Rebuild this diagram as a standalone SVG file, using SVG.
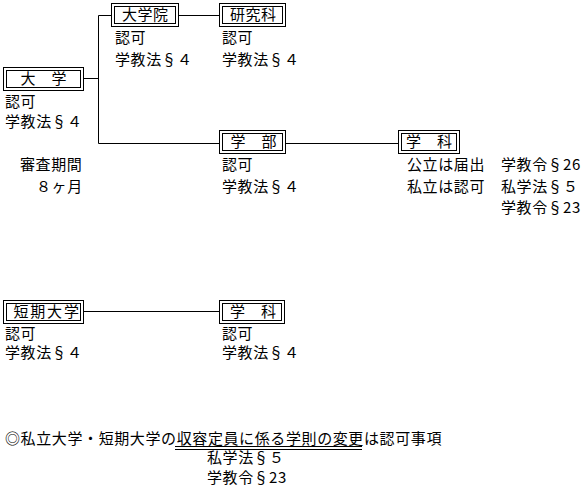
<svg xmlns="http://www.w3.org/2000/svg" width="583" height="493" viewBox="0 0 583 493">
<style>
text{font-family:"Noto Sans CJK JP","Noto Sans CJK SC",sans-serif;font-size:15px;letter-spacing:0.6px;fill:#000}
.bt{text-anchor:middle}
.o{fill:#fff;stroke:#000;stroke-width:1}
.i{fill:none;stroke:#000;stroke-width:1}
.c{stroke:#000;stroke-width:1;fill:none}
</style>
<rect width="583" height="493" fill="#fff"/>
<g id="connectors">
<path class="c" d="M84,78.5H98.5M98.5,15.5V143.5M98.5,15.5H111M179,15.5H219M98.5,143.5H219M286,143.5H398M84,311.5H219"/>
</g>
<g id="daigaku">
<rect class="o" x="3.5" y="67.5" width="80" height="23"/>
<rect class="i" x="6.5" y="70.5" width="74" height="17"/>
<text class="bt" x="43.8" y="84">大　学</text>
<text x="5" y="106.7">認可</text>
<text x="5" y="127.2">学教法<tspan x="51.5">§</tspan><tspan x="67">４</tspan></text>
<text x="20" y="170.2">審査期間</text>
<text x="36" y="191.7">８ヶ月</text>
</g>
<g id="daigakuin">
<rect class="o" x="111.5" y="3.5" width="67" height="23"/>
<rect class="i" x="114.5" y="6.5" width="61" height="17"/>
<text class="bt" x="145.3" y="20">大学院</text>
<text x="115" y="43.2">認可</text>
<text x="115" y="64.7">学教法<tspan x="161.5">§</tspan><tspan x="177">４</tspan></text>
</g>
<g id="kenkyuka">
<rect class="o" x="219.5" y="3.5" width="66" height="23"/>
<rect class="i" x="222.5" y="6.5" width="60" height="17"/>
<text class="bt" x="253.3" y="20">研究科</text>
<text x="222" y="43.2">認可</text>
<text x="222" y="64.7">学教法<tspan x="268.5">§</tspan><tspan x="284">４</tspan></text>
</g>
<g id="gakubu">
<rect class="o" x="219.5" y="130.5" width="66" height="23"/>
<rect class="i" x="222.5" y="133.5" width="60" height="17"/>
<text class="bt" x="253.8" y="147">学　部</text>
<text x="222" y="170.2">認可</text>
<text x="222" y="191.7">学教法<tspan x="268.5">§</tspan><tspan x="284">４</tspan></text>
</g>
<g id="gakka1">
<rect class="o" x="398.5" y="130.5" width="61" height="23"/>
<rect class="i" x="401.5" y="133.5" width="55" height="17"/>
<text class="bt" x="429.3" y="147">学　科</text>
<text x="407" y="170.2">公立は届出</text>
<text x="407" y="191.7">私立は認可</text>
<text x="501" y="170.2">学教令<tspan x="547.5">§</tspan><tspan x="563">26</tspan></text>
<text x="501" y="191.7">私学法<tspan x="547.5">§</tspan><tspan x="563">５</tspan></text>
<text x="501" y="212.7">学教令<tspan x="547.5">§</tspan><tspan x="563">23</tspan></text>
</g>
<g id="tanki">
<rect class="o" x="3.5" y="300.5" width="80" height="23"/>
<rect class="i" x="6.5" y="303.5" width="74" height="17"/>
<text class="bt" x="46.5" y="316.5" textLength="66" lengthAdjust="spacing">短期大学</text>
<text x="5" y="339.2">認可</text>
<text x="5" y="358.2">学教法<tspan x="51.5">§</tspan><tspan x="67">４</tspan></text>
</g>
<g id="gakka2">
<rect class="o" x="219.5" y="300.5" width="65" height="23"/>
<rect class="i" x="222.5" y="303.5" width="59" height="17"/>
<text class="bt" x="253.3" y="316.5">学　科</text>
<text x="222" y="339.2">認可</text>
<text x="222" y="358.2">学教法<tspan x="268.5">§</tspan><tspan x="284">４</tspan></text>
</g>
<g id="note">
<text x="5" y="443.5" textLength="437" lengthAdjust="spacing">◎私立大学・短期大学の収容定員に係る学則の変更は認可事項</text>
<path class="c" d="M175,446.5H362M175,449.5H362"/>
<text x="207" y="462.5">私学法<tspan x="253.5">§</tspan><tspan x="269">５</tspan></text>
<text x="207" y="482.5">学教令<tspan x="253.5">§</tspan><tspan x="269">23</tspan></text>
</g>
</svg>
